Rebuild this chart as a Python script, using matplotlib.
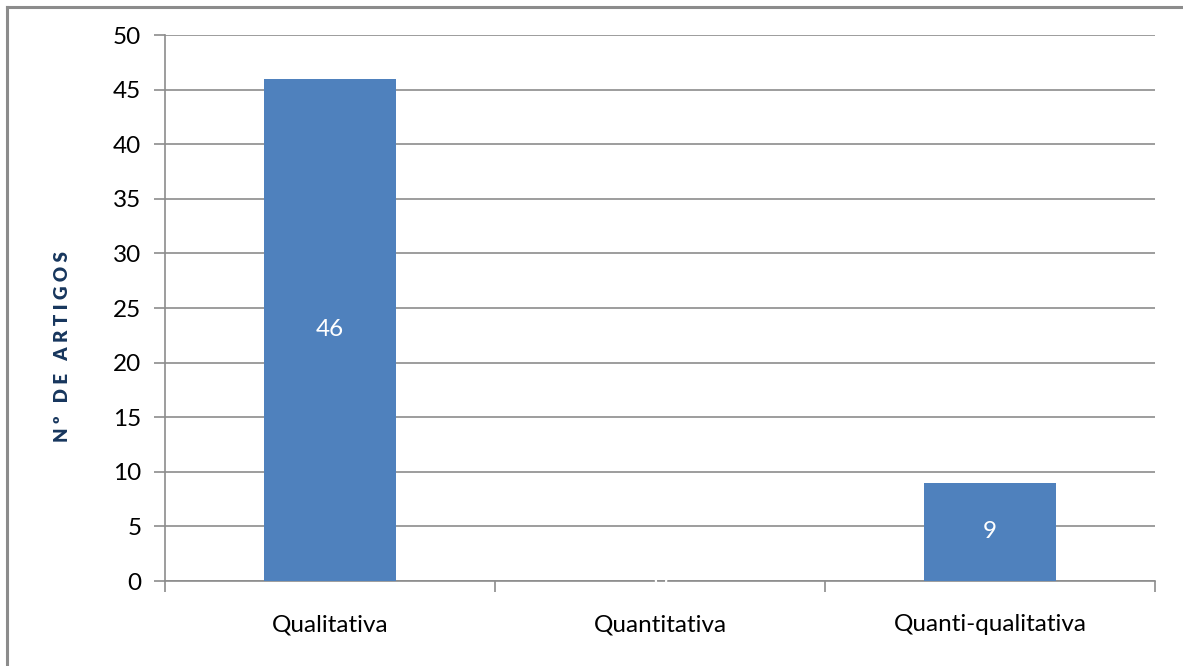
import matplotlib.pyplot as plt
from matplotlib.lines import Line2D

categories = ["Qualitativa", "Quantitativa", "Quanti-qualitativa"]
values = [46, 0, 9]
y_ticks = [0, 5, 10, 15, 20, 25, 30, 35, 40, 45, 50]

bar_color = "#4F81BD"
grid_color = "#8C8C8C"
text_size = 17.5

plt.rcParams["font.family"] = ["Lato", "DejaVu Sans"]

fig = plt.figure(figsize=(11.83, 6.66), dpi=100)
ax = fig.add_axes([165 / 1183, 1 - 581 / 666, 990 / 1183, 546 / 666])

x = list(range(len(categories)))
bars = ax.bar(x, values, width=0.4, color=bar_color, zorder=3)

for xi, v in zip(x, values):
    ax.text(xi, v / 2, str(v), ha="center", va="center", color="white",
            fontsize=text_size, zorder=4)

ax.set_xlim(-0.5, len(categories) - 0.5)
ax.set_ylim(0, 50)
ax.set_yticks(y_ticks)
ax.set_yticklabels([str(t) for t in y_ticks], fontsize=text_size)
ax.yaxis.grid(True, color=grid_color, linewidth=1.2, zorder=0)
ax.set_axisbelow(True)

# Category boundary ticks on the x axis, labels at the centres
ax.set_xticks([i - 0.5 for i in range(len(categories) + 1)])
ax.set_xticklabels([])
ax.set_xticks(x, minor=True)
ax.set_xticklabels(categories, minor=True, fontsize=text_size)
ax.tick_params(axis="x", which="major", length=8, width=1.2, color=grid_color)
ax.tick_params(axis="x", which="minor", length=0, pad=24)
ax.tick_params(axis="y", length=8, width=1.2, color=grid_color, pad=9)

for side in ("top", "right"):
    ax.spines[side].set_visible(False)
for side in ("left", "bottom"):
    ax.spines[side].set_color(grid_color)
    ax.spines[side].set_linewidth(1.2)

# Spaced-out vertical axis title
fig.text(62 / 1183, 1 - 347 / 666, "N º   D E   A R T I G O S", rotation=90,
         ha="center", va="center", fontsize=13.5, fontweight="heavy",
         color="#17365D")

# Outer chart frame (top and left edges visible)
fig.add_artist(Line2D([6.5 / 1183, 6.5 / 1183], [0, 1 - 6.5 / 666],
                      transform=fig.transFigure, color="#8C8C8C", linewidth=2.2))
fig.add_artist(Line2D([6.5 / 1183, 1], [1 - 6.5 / 666, 1 - 6.5 / 666],
                      transform=fig.transFigure, color="#8C8C8C", linewidth=2.2))

fig.savefig("out.png", dpi=100)
